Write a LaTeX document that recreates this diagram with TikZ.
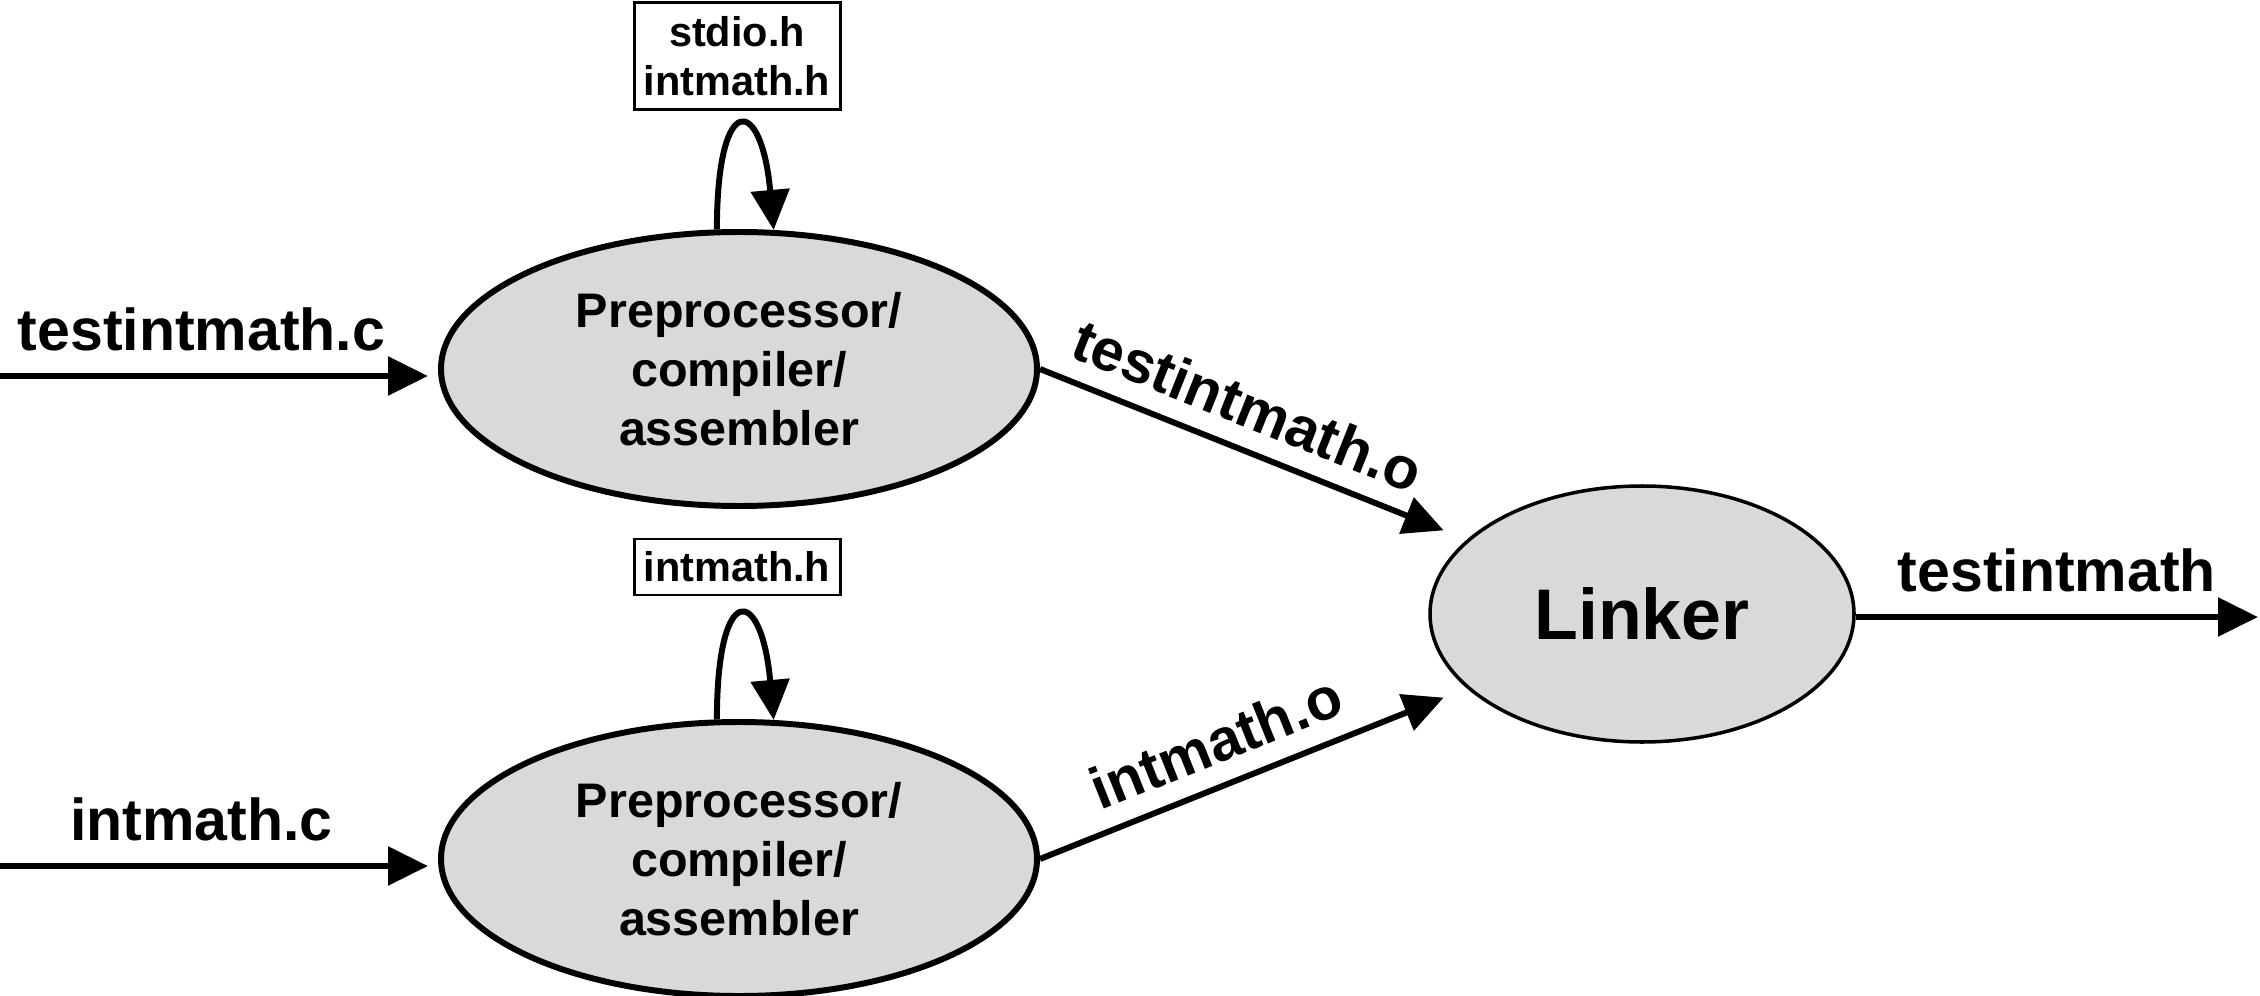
\documentclass[tikz,border=0pt]{standalone}
\usepackage{fontspec}
\setmainfont{Liberation Sans}
\usetikzlibrary{arrows.meta,shapes.geometric}
\definecolor{procgray}{HTML}{D9D9D9}
\tikzset{
  proc/.style={ellipse,draw,fill=procgray,line width=1.7pt,minimum width=5.96cm,minimum height=2.74cm,
    align=center,font=\fontsize{13.8}{16.8}\selectfont\bfseries},
  linkproc/.style={ellipse,draw,fill=procgray,line width=1pt,minimum width=4.24cm,minimum height=2.56cm,
    font=\fontsize{20.4}{24}\selectfont\bfseries},
  hdrbox/.style={draw,line width=0.85pt,minimum width=2.06cm,align=center,inner sep=1pt,
    font=\fontsize{11.8}{13.9}\selectfont\bfseries},
  flow/.style={line width=1.7pt,-{Triangle[length=0.4cm,width=0.38cm]}},
  lbl/.style={font=\fontsize{16.8}{20}\selectfont\bfseries}
}
\begin{document}
\begin{tikzpicture}
		\useasboundingbox (0,0) rectangle (22.6,-9.96);
		\node[proc] (pp1) at (7.39,-3.69) {Preprocessor/\\compiler/\\assembler};
		\node[proc] (pp2) at (7.39,-8.59) {Preprocessor/\\compiler/\\assembler};
		\node[linkproc] (linker) at (16.42,-6.14) {Linker};
		\node[hdrbox,minimum height=1.07cm] (hdr1) at (7.37,-0.56) {stdio.h\\intmath.h};
		\node[hdrbox,minimum height=0.56cm] (hdr2) at (7.37,-5.67) {intmath.h};
		\coordinate (in1) at (0,-3.76);
		\coordinate (in2) at (0,-8.66);
		\coordinate (out) at (22.58,-6.17);
		% inputs
		\draw[flow,shorten >=1mm] (in1) -- (in1 -| pp1.west) node[lbl,above=3pt,pos=0.46] {testintmath.c};
		\draw[flow,shorten >=1mm] (in2) -- (in2 -| pp2.west) node[lbl,above=3pt,pos=0.46] {intmath.c};
		% header loops
		\draw[flow] (pp1.99) .. controls +(0,1.4) and +(-0.12,1.35) .. (pp1.76);
		\draw[flow] (pp2.99) .. controls +(0,1.4) and +(-0.12,1.35) .. (pp2.76);
		% object files
		\draw[flow,shorten >=2.5mm] (pp1.east) -- (linker.157) node[lbl,pos=0.45,above=2pt,sloped] {testintmath.o};
		\draw[flow,shorten >=2.5mm] (pp2.east) -- (linker.-157) node[lbl,pos=0.45,above=2pt,sloped] {intmath.o};
		% output
		\draw[flow] (linker.east |- out) -- (out) node[lbl,above=3pt,midway] {testintmath};
	    \end{tikzpicture}
\end{document}
